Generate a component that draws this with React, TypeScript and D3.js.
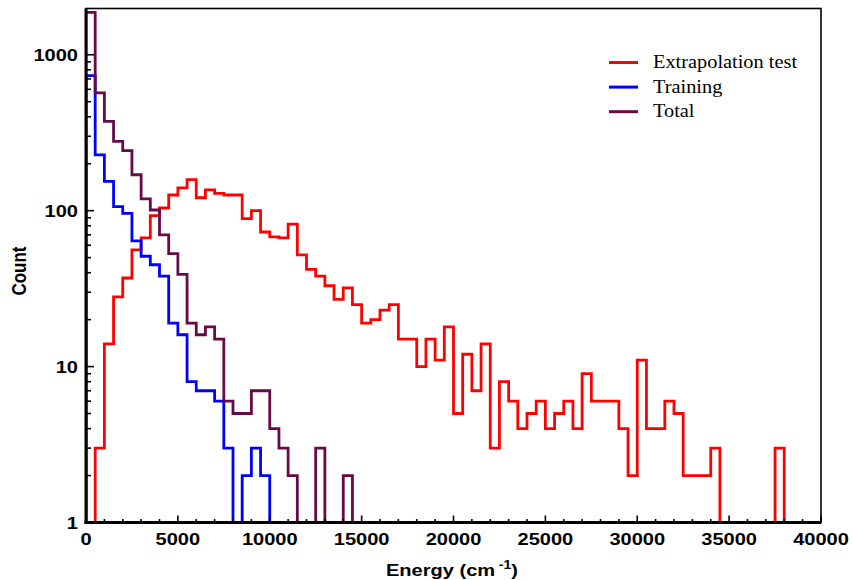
import React from "react";
import * as d3 from "d3";

// ---- data (bin width 500 cm^-1, first bin starts at 0) ----
const binWidth = 500;
const extrapolationCounts = [
  0, 3, 14, 28, 37, 56, 67, 93, 104, 126,
  140, 158, 121, 136, 129, 126, 126, 89, 100, 73,
  68, 67, 82, 52, 42, 38, 33, 27, 32, 25,
  19, 20, 23, 25, 15, 15, 10, 15, 11, 18,
  5, 12, 7, 14, 3, 8, 6, 4, 5, 6,
  4, 5, 6, 4, 9, 6, 6, 6, 4, 2,
  11, 4, 4, 6, 5, 2, 2, 2, 3, 0,
  0, 0, 0, 0, 0, 3,
];
const trainingCounts = [
  734, 228, 154, 106, 96, 64, 51, 45, 38, 19,
  16, 8, 7, 7, 6, 3, 0, 2, 3, 2,
  0, 0, 0, 0, 0, 0,
];
const totalCounts = [
  1870, 569, 374, 278, 243, 170, 119, 101, 70, 53,
  39, 19, 16, 18, 15, 6, 5, 5, 7, 7,
  4, 3, 2, 0, 0, 3, 0, 0, 2,
];
const xMajorTicks = [0, 5000, 10000, 15000, 20000, 25000, 30000, 35000, 40000];
const xMinorStep = 1000;
const yMajorTicks = [1, 10, 100, 1000];
const legendLabels = ["Extrapolation test", "Training", "Total"];
const seriesColors = ["#ff0000", "#0000ff", "#660a48"];

const W = 852;
const H = 580;
const PL = 86, PR = 821, PT = 8.5, PB = 522.5;
const SX = 1.18; // horizontal stretch of the text in the reference

export default function App() {
  const x = d3.scaleLinear().domain([0, 40000]).range([PL, PR]);
  const y = d3.scaleLog().domain([1, 1980]).range([PB, PT]);

  const stepPath = (vals: number[]) => {
    const pts: [number, number][] = [[0, 1]];
    vals.forEach((v, i) => {
      const vv = Math.max(v, 1);
      pts.push([i * binWidth, vv]);
      pts.push([(i + 1) * binWidth, vv]);
    });
    pts.push([vals.length * binWidth, 1]);
    return d3
      .line<[number, number]>()
      .x((d) => x(d[0]))
      .y((d) => y(d[1]))(pts) as string;
  };

  const series = [extrapolationCounts, trainingCounts, totalCounts];

  const xMinor = d3.range(0, 40001, xMinorStep).filter((v) => v % 5000 !== 0);
  const yAll = y.ticks();
  const yMinor = yAll.filter((v) => !yMajorTicks.includes(v));

  const labelFont = {
    fontFamily: "'Liberation Sans', Arial, Helvetica, sans-serif",
    fontWeight: 700,
    fontSize: 17,
  } as const;

  return (
    <svg
      width={W}
      height={H}
      style={{ position: "absolute", left: 0, top: 0, background: "#fff" }}
    >
      <rect x={0} y={0} width={W} height={H} fill="#fff" />
      <defs>
        <clipPath id="plotclip">
          <rect x={PL} y={PT} width={PR - PL} height={PB - PT + 2} />
        </clipPath>
      </defs>

      {/* histograms */}
      <g clipPath="url(#plotclip)">
        {series.map((vals, k) => (
          <path
            key={k}
            d={stepPath(vals)}
            fill="none"
            stroke={seriesColors[k]}
            strokeWidth={2.8}
            strokeLinejoin="miter"
          />
        ))}
      </g>

      {/* frame */}
      <rect x={PL} y={PT} width={PR - PL} height={PB - PT} fill="none" stroke="#000" strokeWidth={1.6} />
      <line x1={PL} x2={PL} y1={PT} y2={PB + 1.5} stroke="#000" strokeWidth={3} />
      <line x1={PL - 1.5} x2={PR} y1={PB} y2={PB} stroke="#000" strokeWidth={3} />

      {/* x ticks */}
      {xMajorTicks.map((v) => (
        <line key={"xM" + v} x1={x(v)} x2={x(v)} y1={PB} y2={PB - 7} stroke="#000" strokeWidth={1.6} />
      ))}
      {xMinor.map((v) => (
        <line key={"xm" + v} x1={x(v)} x2={x(v)} y1={PB} y2={PB - 3.5} stroke="#000" strokeWidth={1.6} />
      ))}
      {xMajorTicks.map((v) => (
        <text
          key={"xl" + v}
          transform={`translate(${x(v)},${544.5}) scale(${SX},1)`}
          textAnchor="middle"
          {...labelFont}
        >
          {v}
        </text>
      ))}

      {/* y ticks */}
      {yMajorTicks.map((v) => (
        <line key={"yM" + v} x1={PL} x2={PL + 8} y1={y(v)} y2={y(v)} stroke="#000" strokeWidth={1.6} />
      ))}
      {yMinor.map((v) => (
        <line key={"ym" + v} x1={PL} x2={PL + 5} y1={y(v)} y2={y(v)} stroke="#000" strokeWidth={1.6} />
      ))}
      {yMajorTicks.map((v) => (
        <text
          key={"yl" + v}
          transform={`translate(${78},${y(v) + 6.5}) scale(${SX},1)`}
          textAnchor="end"
          {...labelFont}
        >
          {v}
        </text>
      ))}

      {/* axis titles */}
      <text
        transform={`translate(26,271) scale(${SX},1) rotate(-90)`}
        textAnchor="middle"
        {...labelFont}
      >
        Count
      </text>
      <text transform={`translate(386,576) scale(${SX},1)`} textAnchor="start" {...labelFont}>
        Energy (cm
        <tspan dx={3} dy={-7} fontSize={12}>-1</tspan>
        <tspan dy={7}>)</tspan>
      </text>

      {/* legend */}
      {legendLabels.map((lab, k) => {
        const ly = 62.5 + k * 24.6;
        return (
          <g key={lab}>
            <line x1={609} x2={638} y1={ly} y2={ly} stroke={seriesColors[k]} strokeWidth={3} />
            <text
              transform={`translate(653,${ly + 5.5}) scale(1.1,1)`}
              fontFamily="'Liberation Serif', 'Times New Roman', serif"
              fontSize={18.5}
              fill="#000"
            >
              {lab}
            </text>
          </g>
        );
      })}
    </svg>
  );
}
